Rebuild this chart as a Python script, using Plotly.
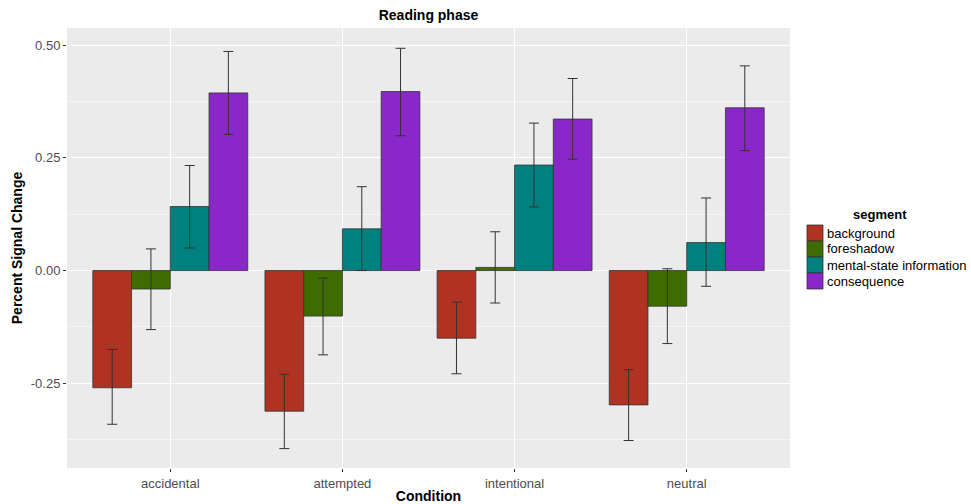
import plotly.graph_objects as go

conditions = ["accidental", "attempted", "intentional", "neutral"]
segments = ["background", "foreshadow", "mental-state information", "consequence"]
colors = ["#B03222", "#3F6C00", "#00807F", "#8A27C9"]

means = {
    "background": [-0.260, -0.312, -0.150, -0.298],
    "foreshadow": [-0.041, -0.101, 0.007, -0.079],
    "mental-state information": [0.142, 0.0925, 0.234, 0.062],
    "consequence": [0.394, 0.397, 0.336, 0.361],
}
err_hi = {
    "background": [-0.175, -0.230, -0.070, -0.220],
    "foreshadow": [0.048, -0.017, 0.086, 0.004],
    "mental-state information": [0.233, 0.186, 0.327, 0.161],
    "consequence": [0.486, 0.493, 0.426, 0.454],
}
err_lo = {
    "background": [-0.341, -0.395, -0.229, -0.377],
    "foreshadow": [-0.131, -0.187, -0.072, -0.162],
    "mental-state information": [0.050, 0.000, 0.141, -0.035],
    "consequence": [0.302, 0.299, 0.247, 0.266],
}

W, H = 971, 504
L, R, T, B = 67, 181, 28, 36
font_family = "Liberation Sans, Arial, sans-serif"

fig = go.Figure()
for seg, col in zip(segments, colors):
    m = means[seg]
    plus = [h - v for h, v in zip(err_hi[seg], m)]
    minus = [v - l for v, l in zip(m, err_lo[seg])]
    fig.add_trace(go.Bar(
        x=conditions, y=m, name=seg, showlegend=False,
        marker=dict(color=col, line=dict(color="#333333", width=0.8)),
        error_y=dict(type="data", symmetric=False, array=plus, arrayminus=minus,
                     color="#333333", thickness=1, width=5),
    ))

# manual legend (ggplot style) in pixel-based paper coordinates
pw, ph = W - L - R, H - T - B
def px(xp):
    return (xp - L) / pw
def py(yp):
    return (H - B - yp) / ph

shapes = []
annotations = [dict(text="<b>segment</b>", x=px(880), y=py(214), xref="paper", yref="paper",
                    showarrow=False, xanchor="center", yanchor="middle",
                    font=dict(family=font_family, size=13, color="black"))]
for i, (seg, col) in enumerate(zip(segments, colors)):
    yc = 233 + 16 * i
    shapes.append(dict(type="rect", xref="paper", yref="paper",
                       x0=px(807), x1=px(823), y0=py(yc - 8), y1=py(yc + 8),
                       fillcolor=col, line=dict(color="#333333", width=0.8)))
    annotations.append(dict(text=seg, x=px(825), y=py(yc), xref="paper", yref="paper",
                            showarrow=False, xanchor="left", yanchor="middle",
                            font=dict(family=font_family, size=13, color="black")))

fig.update_layout(
    width=W, height=H,
    margin=dict(l=L, r=R, t=T, b=B, autoexpand=False),
    paper_bgcolor="white", plot_bgcolor="#EBEBEB",
    barmode="group", bargap=0.1, bargroupgap=0,
    font=dict(family=font_family, size=13, color="#4D4D4D"),
    title=dict(text="<b>Reading phase</b>", x=(L + W - R) / 2 / W, xanchor="center",
               y=1 - 15 / H, yanchor="middle",
               font=dict(family=font_family, size=14, color="black")),
    shapes=shapes, annotations=annotations,
)
fig.update_xaxes(
    range=[-0.6, 3.6], showgrid=True, gridcolor="white", gridwidth=1.2,
    ticks="outside", ticklen=3, tickcolor="#333333", zeroline=False, automargin=False,
    tickfont=dict(size=13, color="#4D4D4D"),
    title=dict(text="<b>Condition</b>", font=dict(size=14, color="black"), standoff=2),
)
fig.update_yaxes(
    range=[-0.438, 0.538], tickvals=[-0.25, 0, 0.25, 0.5],
    ticktext=["-0.25", "0.00", "0.25", "0.50"],
    showgrid=True, gridcolor="white", gridwidth=1.2, zeroline=False, automargin=False,
    ticks="outside", ticklen=3, tickcolor="#333333",
    tickfont=dict(size=13, color="#4D4D4D"),
    minor=dict(tickvals=[-0.375, -0.125, 0.125, 0.375], showgrid=True,
               gridcolor="#F5F5F5", gridwidth=0.6, ticks=""),
    title=dict(text="<b>Percent Signal Change</b>", font=dict(size=14, color="black"), standoff=4),
)
fig.write_html("out.html")
